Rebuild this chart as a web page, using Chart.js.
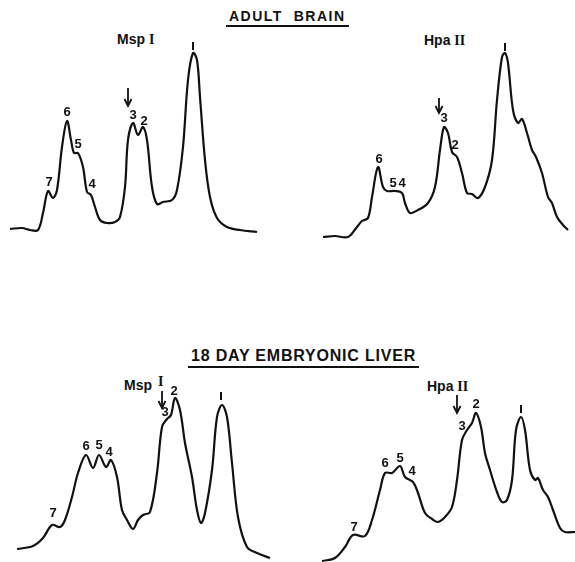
<!DOCTYPE html>
<html>
<head>
<meta charset="utf-8">
<script src="https://cdn.jsdelivr.net/npm/chart.js@4.4.0/dist/chart.umd.min.js"></script>
<style>
body{margin:0;background:#fff;}
#fig{position:relative;width:575px;height:562px;background:#fff;overflow:hidden;font-family:"Liberation Sans",Arial,sans-serif;color:#111;}
canvas{position:absolute;}
.titulo{position:absolute;font-weight:bold;white-space:nowrap;border-bottom:2px solid #111;line-height:1;padding:0 3px 2px 3px;}
.enzima{position:absolute;font-weight:bold;white-space:nowrap;font-size:14px;line-height:1;}
.rom{font-family:"Liberation Serif",serif;font-weight:bold;}
</style>
</head>
<body>
<div id="fig">
  <div class="titulo" style="left:226px;top:9px;font-size:14px;letter-spacing:1.5px;">ADULT&nbsp;&nbsp;BRAIN</div>
  <div class="titulo" style="left:188px;top:348px;font-size:16px;letter-spacing:0.8px;">18 DAY EMBRYONIC LIVER</div>
  <div class="enzima" style="left:117px;top:32px;">Msp <span class="rom">I</span></div>
  <div class="enzima" style="left:424px;top:33px;">Hpa <span class="rom">II</span></div>
  <div class="enzima" style="left:124px;top:378px;">Msp</div>
  <div class="enzima" style="left:158px;top:374px;"><span class="rom">I</span></div>
  <div class="enzima" style="left:427px;top:379px;">Hpa <span class="rom">II</span></div>
  <canvas id="canva1" width="287" height="281" style="left:0;top:0;width:287px;height:281px;"></canvas>
  <canvas id="canva2" width="288" height="281" style="left:287px;top:0;width:288px;height:281px;"></canvas>
  <canvas id="canva3" width="287" height="281" style="left:0;top:281px;width:287px;height:281px;"></canvas>
  <canvas id="canva4" width="288" height="281" style="left:287px;top:281px;width:288px;height:281px;"></canvas>
</div>
<script>
// cerebro adulto - Msp I
let cerebroMspPos = [10,22,30,38,43,48,53,57,62,67,71,74,78,83,87,91,95,100,107,115,120,125,128,133,138,143,147,152,157,163,172,177,183,188,193,197,200,205,210,217,227,240,257];
let cerebroMspAbs = [52,53,51,51,68,90,83,91,134,160,141,128,128,114,89,86,74,61,58,59,64,94,141,158,146,154,141,94,77,79,81,91,134,201,228,221,184,121,84,63,54,51,49];
let cerebroMspPicos = ["7","6","5","4","3","2","1"];
let cerebroMspIdx = [5,9,12,15,23,25,34];

// cerebro adulto - Hpa II
let cerebroHpaPos = [36,48,61,70,75,81,85,91,96,100,108,115,118,123,131,141,148,153,157,161,165,170,175,180,185,191,198,205,210,215,218,221,226,231,235,240,245,249,255,261,265,270,276,281];
let cerebroHpaAbs = [44,45,44,54,60,63,84,114,94,90,90,88,78,68,71,78,94,131,154,148,129,124,108,88,87,83,94,121,181,224,228,218,171,158,162,148,131,124,108,84,78,64,56,51];
let cerebroHpaPicos = ["6","5","4","3","2","1"];
let cerebroHpaIdx = [7,10,11,18,20,30];

// higado embrionario 18 dias - Msp I
let higadoMspPos = [17,33,43,52,60,65,72,78,86,93,99,106,111,117,122,127,133,138,143,150,157,162,167,171,175,180,185,192,197,201,205,212,217,222,227,232,238,247,257,270];
let higadoMspAbs = [13,16,24,37,35,42,65,89,107,94,107,95,102,85,52,42,33,42,47,50,89,135,143,147,164,152,119,85,52,39,49,92,145,157,145,99,45,15,9,4];
let higadoMspPicos = ["7","6","5","4","3","2","1"];
let higadoMspIdx = [3,8,10,12,22,24,33];

// higado embrionario 18 dias - Hpa II
let higadoHpaPos = [35,48,58,66,78,85,93,98,105,113,118,126,131,138,145,151,158,165,170,175,180,185,189,194,198,203,210,215,220,225,229,234,238,243,248,251,256,261,266,273,278,288];
let higadoHpaAbs = [1,4,15,27,26,42,72,89,89,96,85,80,69,49,43,40,45,55,82,122,132,139,149,135,109,92,70,60,62,82,132,145,132,92,82,84,72,65,52,34,30,30];
let higadoHpaPicos = ["7","6","5","4","3","2","1"];
let higadoHpaIdx = [3,7,9,11,20,22,31];

// desplazamientos de las etiquetas (px) y flechas
let desp1 = [[1,-9],[0,-9],[0,-9],[1,-11],[0,-8],[1,-6],[0,-6]];
let desp2 = [[1,-8],[-2,-8],[0,-10],[0,-9],[3,-7],[0,-5]];
let desp3 = [[1,-12],[0,-9],[0,-10],[-2,-8],[-2,-7],[-1,-7],[-1,-8]];
let desp4 = [[1,-8],[0,-10],[0,-8],[-1,-11],[-5,-4],[0,-9],[0,-7]];

function hacerPuntos(pos, abs){
    let puntos = [];
    for(let i = 0; i < pos.length; i++){
        puntos.push({x: pos[i], y: abs[i]});
    }
    return puntos;
}

let etiquetas = {
    id: "etiquetas",
    afterDatasetsDraw(chart, args, opts){
        let ctx = chart.ctx;
        let meta = chart.getDatasetMeta(0);
        ctx.save();
        ctx.fillStyle = "#111";
        ctx.strokeStyle = "#111";
        ctx.textAlign = "center";
        ctx.textBaseline = "middle";
        ctx.font = "bold 13px 'Liberation Sans', Arial, sans-serif";
        for(let i = 0; i < opts.picos.length; i++){
            let p = meta.data[opts.idx[i]];
            let d = opts.desp[i];
            if(opts.picos[i] == "1"){
                ctx.lineWidth = 2;
                ctx.beginPath();
                ctx.moveTo(p.x + d[0], p.y + d[1] - 5);
                ctx.lineTo(p.x + d[0], p.y + d[1] + 3);
                ctx.stroke();
            } else {
                ctx.fillText(opts.picos[i], p.x + d[0], p.y + d[1]);
            }
        }
        if(opts.flecha){
            let f = opts.flecha;
            let p = meta.data[f.idx];
            let x = p.x + f.dx;
            ctx.lineWidth = 1.8;
            ctx.beginPath();
            ctx.moveTo(x, p.y + f.y1);
            ctx.lineTo(x, p.y + f.y2);
            ctx.stroke();
            ctx.beginPath();
            ctx.moveTo(x - 3.5, p.y + f.y2 - 6);
            ctx.lineTo(x, p.y + f.y2 + 1);
            ctx.lineTo(x + 3.5, p.y + f.y2 - 6);
            ctx.stroke();
        }
        ctx.restore();
    }
};

function grafico(id, pos, abs, picos, idx, desp, flecha, ancho){
    let canva = document.getElementById(id).getContext("2d");
    return new Chart(canva, {
        type: "line",
        data:{
            datasets: [{
                data: hacerPuntos(pos, abs),
                borderColor: "#111",
                borderWidth: 2.2,
                pointRadius: 0,
                tension: 0.35,
                fill: false
            }]
        },
        options:{
            responsive: false,
            animation: false,
            layout: {padding: 0},
            scales:{
                x: {type: "linear", display: false, min: 0, max: ancho},
                y: {display: false, min: 0, max: 281}
            },
            plugins:{
                legend: {display: false},
                tooltip: {enabled: false},
                etiquetas: {picos: picos, idx: idx, desp: desp, flecha: flecha}
            }
        },
        plugins: [etiquetas]
    });
}

window.onload = function(){
    grafico("canva1", cerebroMspPos, cerebroMspAbs, cerebroMspPicos, cerebroMspIdx, desp1, {idx: 23, dx: -5, y1: -35, y2: -18}, 287);
    grafico("canva2", cerebroHpaPos, cerebroHpaAbs, cerebroHpaPicos, cerebroHpaIdx, desp2, {idx: 18, dx: -5, y1: -29, y2: -15}, 288);
    grafico("canva3", higadoMspPos, higadoMspAbs, higadoMspPicos, higadoMspIdx, desp3, {idx: 22, dx: -5, y1: -28, y2: -12}, 287);
    grafico("canva4", higadoHpaPos, higadoHpaAbs, higadoHpaPicos, higadoHpaIdx, desp4, {idx: 20, dx: -10, y1: -35, y2: -18}, 288);
}
</script>
</body>
</html>
